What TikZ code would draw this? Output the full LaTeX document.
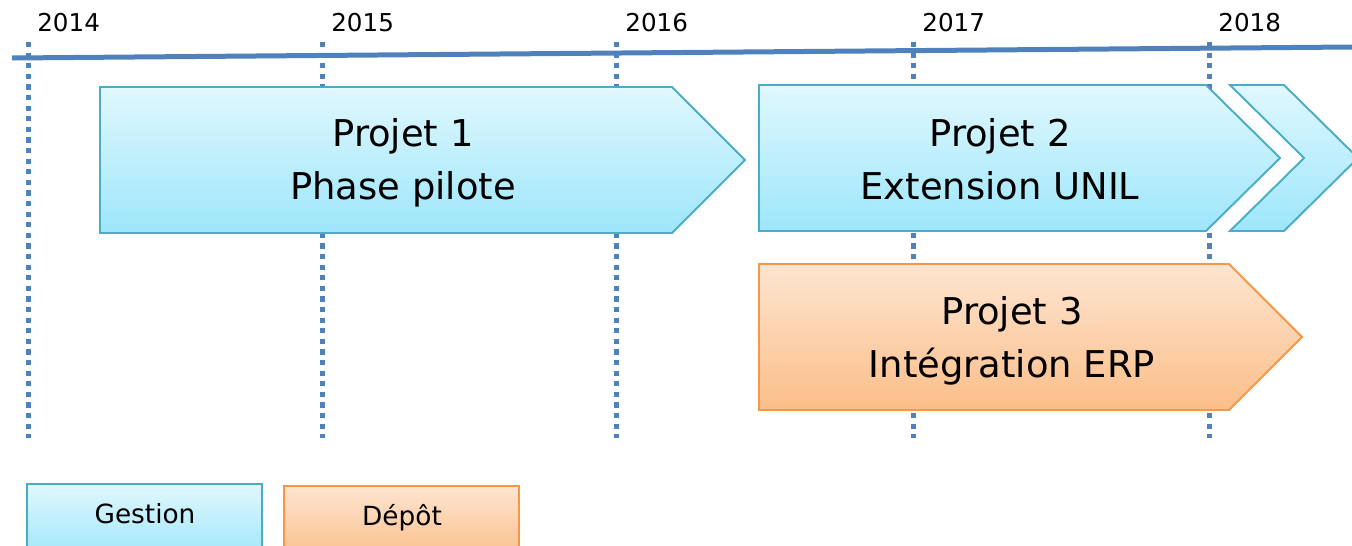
\documentclass[tikz,border=0pt]{standalone}
\usepackage{fontspec}
\setmainfont{DejaVu Sans}
\usepackage{xcolor}
\usepackage{tikz}
\definecolor{axe}{RGB}{79,129,189}
\definecolor{bleuhaut}{RGB}{224,248,253}
\definecolor{bleubas}{RGB}{157,230,251}
\definecolor{bleubord}{RGB}{75,172,198}
\definecolor{orhaut}{RGB}{253,229,209}
\definecolor{orbas}{RGB}{251,190,137}
\definecolor{orbord}{RGB}{247,150,70}
\tikzset{
	gestion/.style={draw=bleubord, line width=1.1pt, top color=bleuhaut, bottom color=bleubas},
	depot/.style={draw=orbord, line width=1.1pt, top color=orhaut, bottom color=orbas},
	pointille/.style={axe, line width=0.1cm, dash pattern=on 0.106cm off 0.106cm},
	titre/.style={font=\fontsize{21}{30}\selectfont, align=center},
	annee/.style={font=\fontsize{14}{16}\selectfont, anchor=base west, inner sep=0pt},
	legende/.style={font=\fontsize{15}{18}\selectfont}
}
\begin{document}
\begin{tikzpicture}[x=0.02cm,y=-0.02cm]
			\useasboundingbox (0,0) rectangle (1352,545);
			\clip (0,0) rectangle (1352,545);
			% Années
			\foreach \x/\an in {28/2014,322/2015,616/2016,913/2017,1209/2018}{
			\draw[pointille] (\x,42) -- (\x,438);
			\node[annee] (a\an) at (\x+9,31) {\an};
			}
			\draw[axe, line width=0.1cm] (12,58) -- (1352,47);
			% Projets
			\path[gestion] (100,87) -- (672,87) -- (745,160) -- (672,233) -- (100,233) -- cycle;
			\path[gestion] (759,85) -- (1206,85) -- (1280,158) -- (1206,231) -- (759,231) -- cycle;
			\path[gestion] (1230,85) -- (1284,85) -- (1358,158) -- (1284,231) -- (1230,231) -- (1304,158) -- cycle;
			\path[depot] (759,264) -- (1229,264) -- (1302,337) -- (1229,410) -- (759,410) -- cycle;
			\node[titre] (p1) at (403,163) {Projet 1\\Phase pilote};
			\node[titre] (p2) at (1000,159) {Projet 2\\Extension UNIL};
			\node[titre] (p3) at (1012,341) {Projet 3\\Intégration ERP};
			% Légende
			\path[gestion] (27,484) rectangle (262,560);
			\path[depot] (284,486) rectangle (519,560);
			\node[legende] (lg) at (145,514) {Gestion};
			\node[legende] (ld) at (402,518) {Dépôt};
		\end{tikzpicture}
\end{document}
